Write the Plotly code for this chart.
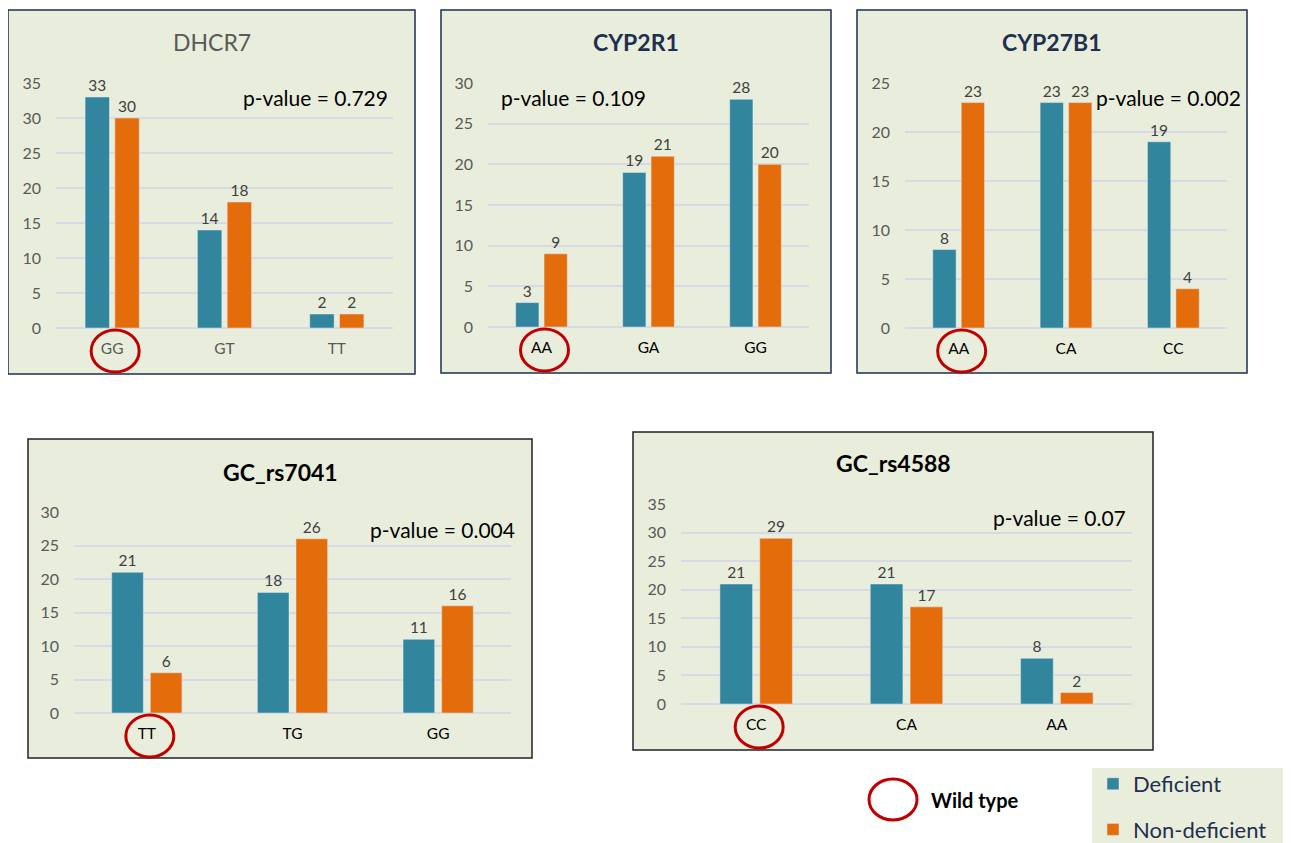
import plotly.graph_objects as go

W, H = 1291, 843
OFF = 8  # page body margin compensation

titles = ["DHCR7", "CYP2R1", "CYP27B1", "GC_rs7041", "GC_rs4588"]
categories = [["GG", "GT", "TT"], ["AA", "GA", "GG"], ["AA", "CA", "CC"],
              ["TT", "TG", "GG"], ["CC", "CA", "AA"]]
deficient = [[33, 14, 2], [3, 19, 28], [8, 23, 19], [21, 18, 11], [21, 21, 8]]
non_deficient = [[30, 18, 2], [9, 21, 20], [23, 23, 4], [6, 26, 16], [29, 17, 2]]
pvalues = ["p-value = 0.729", "p-value = 0.109", "p-value = 0.002",
           "p-value = 0.004", "p-value = 0.07"]
wild_type_index = [0, 0, 0, 0, 0]
y_max = [35, 30, 25, 30, 35]

TEAL = "#31859C"
ORANGE = "#E46C0A"
FONT = "Lato"

# layout geometry in pixels: box, plot area, title, p-value placement
boxes = [(8, 10, 415, 374), (441, 10, 831, 373), (857, 10, 1247, 373),
         (28, 439, 532, 758), (633, 432, 1153, 750)]
plots = [(56, 83, 393, 328), (488, 83, 809, 327), (905, 83, 1227, 328),
         (74, 512, 511, 713), (681, 504, 1132, 704)]
title_pos = [(212, 42), (636, 42), (1052, 42), (280, 472), (893, 463)]
title_style = [("#595959", False), ("#1F2F4F", True), ("#1F2F4F", True),
               ("#000000", True), ("#000000", True)]
pv_pos = [(390, 97, "right"), (499, 97, "left"), (1243, 98, "right"),
          (517, 529, "right"), (1128, 517, "right")]
xlab_color = ["#595959", "#000000", "#000000", "#000000", "#000000"]


def px(x):
    return (x - OFF) / W


def py(y):
    return 1 - (y - OFF) / H


fig = go.Figure()
shapes = []
annotations = []

for i in range(5):
    n = "" if i == 0 else str(i + 1)
    bx0, by0, bx1, by1 = boxes[i]
    shapes.append(dict(type="rect", xref="paper", yref="paper",
                       x0=px(bx0), x1=px(bx1), y0=py(by1), y1=py(by0),
                       fillcolor="#E9EEDC",
                       line=dict(color="#1F2F4F" if i < 3 else "#222222", width=1.5),
                       layer="below"))
    x0, y0, x1, y1 = plots[i]
    fig.add_trace(go.Bar(x=categories[i], y=deficient[i], name="Deficient",
                         marker=dict(color=TEAL), text=deficient[i],
                         textposition="outside", cliponaxis=False,
                         textfont=dict(size=15.5, color="#404040", family=FONT),
                         xaxis="x" + n, yaxis="y" + n, showlegend=(i == 0),
                         legendgroup="a"))
    fig.add_trace(go.Bar(x=categories[i], y=non_deficient[i], name="Non-deficient",
                         marker=dict(color=ORANGE), text=non_deficient[i],
                         textposition="outside", cliponaxis=False,
                         textfont=dict(size=15.5, color="#404040", family=FONT),
                         xaxis="x" + n, yaxis="y" + n, showlegend=(i == 0),
                         legendgroup="b"))
    fig.update_layout(**{
        "xaxis" + n: dict(domain=[px(x0), px(x1)], anchor="y" + n,
                          type="category", range=[-0.5, 2.5],
                          tickfont=dict(size=15.5, color=xlab_color[i], family=FONT),
                          showgrid=False, showline=False, ticks="", ticklen=0,
                          ticklabelstandoff=9),
        "yaxis" + n: dict(domain=[py(y1), py(y0)], anchor="x" + n,
                          range=[0, y_max[i]], dtick=5,
                          tickfont=dict(size=16, color="#595959", family=FONT),
                          gridcolor="#D8D9E4", gridwidth=1.5,
                          zeroline=True, zerolinecolor="#D8D9E4", zerolinewidth=1.5,
                          showline=False, ticks="", ticklabelstandoff=14),
    })
    tx, ty = title_pos[i]
    col, bold = title_style[i]
    annotations.append(dict(xref="paper", yref="paper", x=px(tx), y=py(ty),
                            text=("<b>%s</b>" % titles[i]) if bold else titles[i],
                            showarrow=False, xanchor="center", yanchor="middle",
                            font=dict(size=23, color=col, family=FONT)))
    vx, vy, anc = pv_pos[i]
    annotations.append(dict(xref="paper", yref="paper", x=px(vx), y=py(vy),
                            text=pvalues[i], showarrow=False, xanchor=anc,
                            yanchor="middle",
                            font=dict(size=21, color="#000000", family=FONT)))
    # wild-type circle around category label
    step = (x1 - x0) / 3
    cx = x0 + step * (wild_type_index[i] + 0.5) + 3
    cy = y1 + 23
    shapes.append(dict(type="circle", xref="paper", yref="paper",
                       x0=px(cx - 24), x1=px(cx + 24), y0=py(cy + 21), y1=py(cy - 21),
                       line=dict(color="#C00000", width=3)))

# wild type key
shapes.append(dict(type="circle", xref="paper", yref="paper",
                   x0=px(869), x1=px(917), y0=py(820), y1=py(779),
                   line=dict(color="#C00000", width=3)))
annotations.append(dict(xref="paper", yref="paper", x=px(929), y=py(800),
                        text="<b>Wild type</b>", showarrow=False, xanchor="left",
                        yanchor="middle", font=dict(size=20, color="#000000", family=FONT)))
# legend background
shapes.append(dict(type="rect", xref="paper", yref="paper",
                   x0=px(1092), x1=px(1291), y0=py(851), y1=py(768),
                   fillcolor="#E9EEDC", line=dict(width=0), layer="below"))

fig.update_layout(
    width=W, height=H, margin=dict(l=0, r=0, t=0, b=0, autoexpand=False),
    paper_bgcolor="white", plot_bgcolor="rgba(0,0,0,0)",
    barmode="group", bargap=0.47, bargroupgap=0.18,
    shapes=shapes, annotations=annotations,
    font=dict(family=FONT),
    legend=dict(x=px(1093), y=py(851), xanchor="left", yanchor="bottom",
                bgcolor="rgba(0,0,0,0)", font=dict(size=22, color="#1F2F4F", family=FONT),
                tracegroupgap=14, itemwidth=30),
)

fig.write_html("out.html")
